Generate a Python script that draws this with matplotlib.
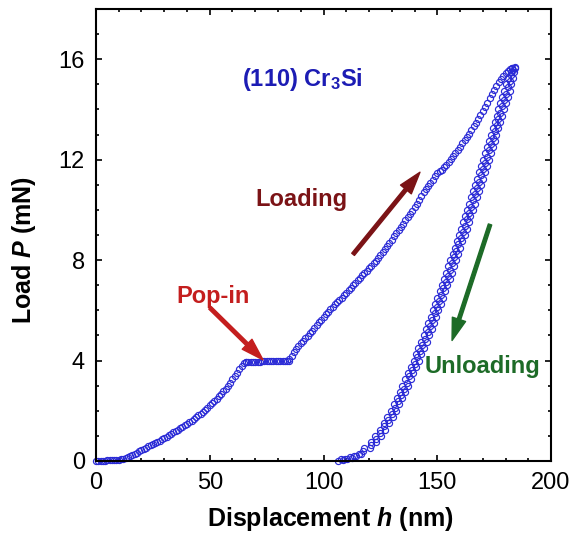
import numpy as np
import matplotlib
matplotlib.use("Agg")
import matplotlib.pyplot as plt
from matplotlib.ticker import MultipleLocator

plt.rcParams['font.family'] = ['Liberation Sans', 'DejaVu Sans']
plt.rcParams['mathtext.fontset'] = 'custom'
plt.rcParams['mathtext.rm'] = 'Liberation Sans:bold'
plt.rcParams['mathtext.it'] = 'Liberation Sans:bold:italic'
plt.rcParams['mathtext.bf'] = 'Liberation Sans:bold'

# loading up to the pop-in (nm, mN)
h_rise = [0, 1, 2, 3, 4, 5, 6, 7, 8, 9, 10, 11, 12, 13, 14, 15, 16, 17, 18, 19,
          20, 21, 22, 23, 24, 25, 26, 27, 28, 29, 30, 31, 32, 33, 34, 35, 36, 37, 38, 39,
          40, 41, 42, 43, 44, 45, 46, 47, 48, 49, 50, 51, 52, 53, 54, 55, 56, 57, 58, 59,
          60, 61, 62, 63, 64, 65, 66]
p_rise = [0.00, 0.00, 0.00, 0.01, 0.01, 0.02, 0.02, 0.03, 0.03, 0.04,
          0.05, 0.06, 0.08, 0.11, 0.14, 0.18, 0.22, 0.27, 0.32, 0.38,
          0.43, 0.48, 0.53, 0.58, 0.62, 0.67, 0.71, 0.76, 0.80, 0.86,
          0.91, 0.97, 1.02, 1.08, 1.14, 1.20, 1.25, 1.31, 1.37, 1.43,
          1.49, 1.55, 1.61, 1.68, 1.75, 1.82, 1.89, 1.97, 2.05, 2.13,
          2.21, 2.30, 2.38, 2.47, 2.57, 2.67, 2.77, 2.88, 3.00, 3.12,
          3.25, 3.38, 3.52, 3.66, 3.80, 3.90, 3.95]

# pop-in plateau
h_pop = [66, 67, 68, 69, 70, 71, 72, 73, 74, 75, 76, 77, 78, 79, 80, 81, 82, 83, 84, 85]
p_pop = [3.95, 3.95, 3.95, 3.96, 3.96, 3.96, 3.96, 3.97, 3.97, 3.97,
         3.97, 3.98, 3.98, 3.98, 3.98, 3.99, 3.99, 3.99, 4.00, 4.00]

# loading after the pop-in
h_climb = [85, 86, 87, 88, 89, 90, 91, 92, 93, 94, 95, 96, 97, 98, 99,
           100, 101, 102, 103, 104, 105, 106, 107, 108, 109, 110, 111, 112, 113, 114,
           115, 116, 117, 118, 119, 120, 121, 122, 123, 124, 125, 126, 127, 128, 129,
           130, 131, 132, 133, 134, 135, 136, 137, 138, 139, 140, 141, 142, 143, 144,
           145, 146, 147, 148, 149, 150, 151, 152, 153, 154, 155, 156, 157, 158, 159,
           160, 161, 162, 163, 164, 165, 166, 167, 168, 169, 170, 171, 172, 173, 174,
           175, 176, 177, 178, 179, 180, 181, 182, 183, 184]
p_climb = [4.05, 4.20, 4.33, 4.45, 4.57, 4.68, 4.78, 4.88, 4.98, 5.08, 5.19, 5.30, 5.41, 5.52, 5.63,
           5.74, 5.85, 5.95, 6.05, 6.15, 6.24, 6.33, 6.42, 6.51, 6.60, 6.69, 6.79, 6.89, 6.99, 7.09,
           7.19, 7.29, 7.39, 7.49, 7.58, 7.68, 7.78, 7.88, 7.98, 8.08, 8.20, 8.32, 8.45, 8.57, 8.70,
           8.82, 8.95, 9.07, 9.20, 9.33, 9.45, 9.58, 9.70, 9.83, 9.96, 10.10, 10.25, 10.40, 10.55, 10.70,
           10.83, 10.95, 11.08, 11.20, 11.33, 11.45, 11.53, 11.60, 11.70, 11.80, 11.91, 12.02, 12.15, 12.28, 12.40,
           12.52, 12.65, 12.77, 12.90, 13.03, 13.18, 13.33, 13.48, 13.63, 13.78, 13.93, 14.09, 14.25, 14.44, 14.62,
           14.79, 14.95, 15.09, 15.22, 15.34, 15.45, 15.53, 15.60, 15.65, 15.70]

# unloading toe near zero load
h_toe = [106.5, 107.5, 108.5, 109.5, 110.5, 111.5, 112.5, 113.5, 114.5, 115.5, 116.5, 117.5]
p_toe = [0.00, 0.06, 0.03, 0.09, 0.06, 0.14, 0.12, 0.20, 0.19, 0.29, 0.28, 0.39]

# unloading band: left and right edge of the band
p_unload = [0.50, 0.75, 1.00, 1.25, 1.50, 1.75, 2.00, 2.25, 2.50, 2.75,
            3.00, 3.25, 3.50, 3.75, 4.00, 4.25, 4.50, 4.75, 5.00, 5.25, 5.50, 5.75,
            6.00, 6.25, 6.50, 6.75, 7.00, 7.25, 7.50, 7.75, 8.00, 8.25, 8.50, 8.75,
            9.00, 9.25, 9.50, 9.75, 10.00, 10.25, 10.50, 10.75, 11.00, 11.25, 11.50, 11.75,
            12.00, 12.25, 12.50, 12.75, 13.00, 13.25, 13.50, 13.75, 14.00, 14.25, 14.50, 14.75,
            15.00, 15.25, 15.50, 15.65]
h_unload_left = [118.0, 120.8, 122.7, 124.7, 126.4, 128.1, 129.6, 131.0, 132.3, 133.5,
                 134.7, 135.9, 137.0, 138.3, 139.6, 140.6, 141.6, 142.9, 144.1, 145.1, 146.1, 147.1,
                 148.1, 149.1, 150.0, 151.0, 152.0, 153.0, 153.9, 154.8, 155.8, 156.7, 157.6, 158.6,
                 159.6, 160.5, 161.4, 162.2, 163.1, 164.0, 164.9, 165.8, 166.7, 167.6, 168.5, 169.4,
                 170.3, 171.1, 171.9, 172.8, 173.6, 174.5, 175.3, 176.1, 176.9, 177.7, 178.5, 179.4,
                 180.4, 181.3, 182.2, 183.0]
h_unload_right = [120.5, 123.2, 125.1, 127.1, 128.8, 130.5, 132.0, 133.4, 134.7, 135.9,
                  137.1, 138.3, 139.4, 140.7, 142.0, 143.0, 144.0, 145.3, 146.5, 147.5, 148.5, 149.5,
                  150.5, 151.5, 152.4, 153.4, 154.4, 155.4, 156.3, 157.2, 158.2, 159.1, 160.0, 161.0,
                  162.0, 162.9, 163.8, 164.6, 165.5, 166.4, 167.3, 168.2, 169.1, 170.0, 170.9, 171.8,
                  172.7, 173.5, 174.3, 175.2, 176.0, 176.9, 177.7, 178.5, 179.3, 180.1, 180.9, 181.8,
                  182.4, 183.1, 183.7, 184.1]
# unloading band: middle of the band
p_unload_mid = [0.625, 0.875, 1.125, 1.375, 1.625, 1.875, 2.125, 2.375, 2.625, 2.875,
                3.125, 3.375, 3.625, 3.875, 4.125, 4.375, 4.625, 4.875, 5.125, 5.375, 5.625, 5.875,
                6.125, 6.375, 6.625, 6.875, 7.125, 7.375, 7.625, 7.875, 8.125, 8.375, 8.625, 8.875,
                9.125, 9.375, 9.625, 9.875, 10.125, 10.375, 10.625, 10.875, 11.125, 11.375, 11.625, 11.875,
                12.125, 12.375, 12.625, 12.875, 13.125, 13.375, 13.625, 13.875, 14.125, 14.375, 14.625, 14.875,
                15.125, 15.375, 15.575]
h_unload_mid = [120.7, 123.0, 124.9, 126.8, 128.5, 130.1, 131.5, 132.9, 134.1, 135.3,
                136.5, 137.7, 138.9, 140.2, 141.3, 142.3, 143.5, 144.7, 145.8, 146.8, 147.8, 148.8,
                149.8, 150.8, 151.7, 152.7, 153.7, 154.7, 155.6, 156.5, 157.5, 158.4, 159.3, 160.3,
                161.3, 162.2, 163.0, 163.9, 164.8, 165.7, 166.6, 167.5, 168.4, 169.3, 170.2, 171.1,
                171.9, 172.7, 173.6, 174.4, 175.3, 176.1, 176.9, 177.7, 178.5, 179.3, 180.2, 181.0,
                181.8, 182.6, 183.3]

fig = plt.figure(figsize=(5.71, 5.33), dpi=100)
ax = fig.add_axes([0.1681, 0.1351, 0.7969, 0.848])

blue = '#2b2bd6'
mk = dict(marker='o', ms=4.4, mfc='none', mec=blue, mew=0.85, ls='none', clip_on=False)
ax.plot(h_rise, p_rise, **mk)
ax.plot(h_pop, p_pop, **mk)
ax.plot(h_climb, p_climb, **mk)
ax.plot(h_toe, p_toe, **mk)
ax.plot(h_unload_left, p_unload, **mk)
ax.plot(h_unload_mid, p_unload_mid, **mk)
ax.plot(h_unload_right, p_unload, **mk)

ax.set_xlim(0, 200)
ax.set_ylim(0, 18)
ax.xaxis.set_major_locator(MultipleLocator(50))
ax.xaxis.set_minor_locator(MultipleLocator(10))
ax.yaxis.set_major_locator(MultipleLocator(4))
ax.yaxis.set_minor_locator(MultipleLocator(1))
ax.tick_params(which='both', direction='in', top=True, right=True, width=1.2)
ax.tick_params(which='major', length=4.5, labelsize=17, pad=8)
ax.tick_params(which='minor', length=2.5)
for s in ax.spines.values():
    s.set_linewidth(1.5)
    s.set_zorder(5)

ax.set_xlabel(r'Displacement $h$ (nm)', fontsize=18, fontweight='bold')
ax.set_ylabel(r'Load $P$ (mN)', fontsize=18, fontweight='bold', labelpad=15)
ax.xaxis.set_label_coords(0.515, -0.097)
ax.yaxis.label.set_y(0.467)

ax.text(64.2, 14.95, r'(110) Cr$_3$Si', color='#1c1cb4', fontsize=17, fontweight='bold')
ax.text(69.9, 10.17, 'Loading', color='#7b1316', fontsize=17, fontweight='bold')
ax.text(35.2, 6.28, 'Pop-in', color='#c41e1e', fontsize=17, fontweight='bold')
ax.text(144.3, 3.52, 'Unloading', color='#1d6b27', fontsize=17, fontweight='bold')

def arrow(tail, head, color):
    ax.annotate('', xy=head, xytext=tail,
                arrowprops=dict(color=color, width=2.5, headwidth=10, headlength=16, shrink=0))

arrow((113, 8.23), (142.4, 11.5), '#7b1316')
arrow((50.1, 6.1), (73.4, 4.03), '#c41e1e')
arrow((173.2, 9.42), (156.5, 4.8), '#1d6b27')

fig.savefig('out.png', dpi=100)
